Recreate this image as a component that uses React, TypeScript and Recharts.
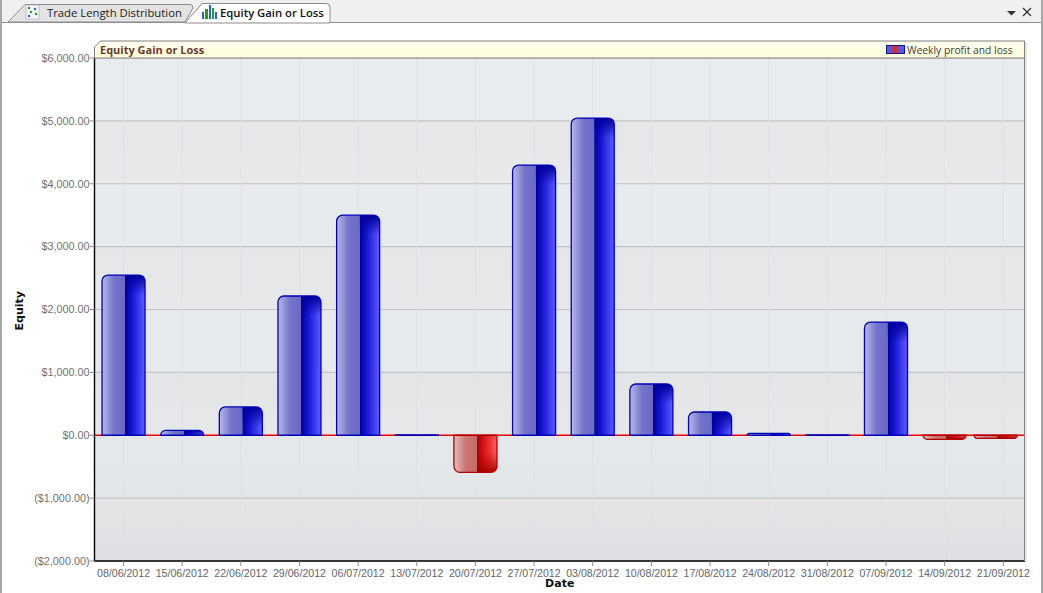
import { BarChart, Bar, XAxis, YAxis, CartesianGrid, ReferenceLine } from 'recharts';

const dates = [
  '08/06/2012', '15/06/2012', '22/06/2012', '29/06/2012', '06/07/2012', '13/07/2012', '20/07/2012', '27/07/2012',
  '03/08/2012', '10/08/2012', '17/08/2012', '24/08/2012', '31/08/2012', '07/09/2012', '14/09/2012', '21/09/2012',
];
const profit = [2548, 76, 450, 2215, 3500, 5, -590, 4297, 5045, 815, 370, 30, 5, 1800, -65, -50];
const equityTicks = [6000, 5000, 4000, 3000, 2000, 1000, 0, -1000, -2000];
const dateTicks = dates.map((_, i) => i);
// the last bar sits left of its tick in the original, it gets pushed back inside the plot
const barSlots = [0, 1, 2, 3, 4, 5, 6, 7, 8, 9, 10, 11, 12, 13, 14, 14.87];

// top -> bottom colours of every band between two gridlines
const bandTop = ['#e9ecef', '#e5e6e8', '#e8ebee', '#e5e6e8', '#e7eaed', '#e4e5e7', '#e5e8eb', '#e5e5e6'];
const bandBottom = ['#e9ecef', '#e7e9eb', '#e8ebee', '#e6e8ea', '#e7eaed', '#e5e7e9', '#e3e6e9', '#dddfe2'];

const chartData = dates.map((date, i) => ({ idx: barSlots[i], date, value: profit[i] }));

const LABEL_FONT = '"Liberation Sans", Arial, sans-serif';
const UI_FONT = '"Open Sans", "Noto Sans", sans-serif';

function formatMoney(v: number) {
  const s = '$' + Math.abs(v).toLocaleString('en-US', { minimumFractionDigits: 2 });
  return v < 0 ? `(${s})` : s;
}

function GlossyBar(props: any) {
  const { x, y, width, height, value } = props;
  const raw = Array.isArray(value) ? value[1] : value;
  const neg = raw < 0;
  const top = Math.min(y, y + height);
  const h = Math.abs(height);
  const r = Math.min(6, h);
  const right = x + width;
  const mid = x + width * 0.54;
  const bottom = top + h;
  const path = neg
    ? `M${x},${top} H${right} V${bottom - r} A${r},${r} 0 0 1 ${right - r},${bottom} H${x + r} A${r},${r} 0 0 1 ${x},${bottom - r} Z`
    : `M${x},${bottom} V${top + r} A${r},${r} 0 0 1 ${x + r},${top} H${right - r} A${r},${r} 0 0 1 ${right},${top + r} V${bottom} Z`;
  const shadeH = Math.min(20, h);
  const shade = neg
    ? `M${mid},${bottom - shadeH} H${right} V${bottom - r} A${r},${r} 0 0 1 ${right - r},${bottom} H${mid} Z`
    : `M${mid},${top + shadeH} V${top} H${right - r} A${r},${r} 0 0 1 ${right},${top + r} V${top + shadeH} Z`;
  return (
    <g>
      <path d={path} fill={neg ? 'url(#redBar)' : 'url(#blueBar)'} />
      {h > 3 && <path d={shade} fill={neg ? 'url(#redShade)' : 'url(#blueShade)'} />}
      <path d={path} fill="none" stroke={neg ? '#b00000' : '#0000b4'} strokeWidth={1.3} />
    </g>
  );
}

function TabStrip() {
  return (
    <svg width={1043} height={24} style={{ position: 'absolute', left: 0, top: 0 }}>
      <rect x={0} y={0} width={1043} height={22} fill="#f0f0f0" />
      <line x1={0} x2={1043} y1={22.5} y2={22.5} stroke="#8c8c8c" />
      <path d="M8,22 L25,4.5 H190 Q193,4.5 193,8 L185,22 Z" fill="#e3e3e3" stroke="#8c8c8c" />
      <path d="M185,23 L202,3.5 H326 Q330,3.5 330,7 V23 Z" fill="#fff" stroke="#8c8c8c" />
      <rect x={26} y={5} width={13} height={14} fill="#f4f6fb" stroke="#9aa6c0" strokeWidth={0.6} />
      <circle cx={29} cy={8} r={1.2} fill="#1aa51a" />
      <circle cx={35} cy={9} r={1.2} fill="#2a62c8" />
      <circle cx={31} cy={12} r={1.2} fill="#1aa51a" />
      <circle cx={36} cy={14} r={1.2} fill="#1aa51a" />
      <circle cx={29} cy={16} r={1.2} fill="#2a62c8" />
      <rect x={202} y={12} width={2} height={7} fill="#2a62c8" />
      <rect x={205} y={9} width={3} height={10} fill="#1aa51a" />
      <rect x={209} y={5} width={2} height={14} fill="#2a62c8" />
      <rect x={212} y={8} width={2} height={11} fill="#1aa51a" />
      <rect x={215} y={12} width={2} height={7} fill="#2a62c8" />
      <text x={47} y={17} fontFamily={UI_FONT} fontSize={11.3} fill="#222">
        Trade Length Distribution
      </text>
      <text x={220} y={17} fontFamily={UI_FONT} fontSize={11.3} fontWeight={600} fill="#111">
        Equity Gain or Loss
      </text>
      <path d="M1007,11 H1016 L1011.5,15.5 Z" fill="#333" />
      <path d="M1023,8 L1031,16 M1031,8 L1023,16" stroke="#333" strokeWidth={1.3} />
    </svg>
  );
}

export default function App() {
  return (
    <div style={{ position: 'absolute', left: 0, top: 0, width: 1043, height: 593, background: '#fff', overflow: 'hidden' }}>
      <BarChart
        width={1043}
        height={593}
        data={chartData}
        margin={{ top: 58, right: 18, bottom: 0, left: 0 }}
        barSize={43}
      >
        <defs>
          {bandTop.map((c, i) => (
            <linearGradient key={i} id={`band${i}`} x1="0" y1="0" x2="0" y2="1">
              <stop offset="0" stopColor={c} />
              <stop offset="1" stopColor={bandBottom[i]} />
            </linearGradient>
          ))}
          <linearGradient id="blueBar" x1="0" y1="0" x2="1" y2="0">
            <stop offset="0" stopColor="#b8b8e6" />
            <stop offset="0.28" stopColor="#7474cc" />
            <stop offset="0.535" stopColor="#6a6ac6" />
            <stop offset="0.545" stopColor="#0000a8" />
            <stop offset="0.7" stopColor="#1616d0" />
            <stop offset="0.85" stopColor="#3838ec" />
            <stop offset="1" stopColor="#5e5eff" />
          </linearGradient>
          <linearGradient id="redBar" x1="0" y1="0" x2="1" y2="0">
            <stop offset="0" stopColor="#e6bcbc" />
            <stop offset="0.28" stopColor="#cc7474" />
            <stop offset="0.535" stopColor="#c66a6a" />
            <stop offset="0.545" stopColor="#b40000" />
            <stop offset="0.7" stopColor="#d41616" />
            <stop offset="0.85" stopColor="#ec3838" />
            <stop offset="1" stopColor="#ff5e5e" />
          </linearGradient>
          <linearGradient id="blueShade" x1="0" y1="0" x2="0" y2="1">
            <stop offset="0" stopColor="#00009c" stopOpacity={1} />
            <stop offset="1" stopColor="#00009c" stopOpacity={0} />
          </linearGradient>
          <linearGradient id="redShade" x1="0" y1="0" x2="0" y2="1">
            <stop offset="0" stopColor="#a80000" stopOpacity={0} />
            <stop offset="1" stopColor="#a80000" stopOpacity={0.9} />
          </linearGradient>
        </defs>
        <CartesianGrid
          vertical={false}
          stroke="#c2c2c2"
          strokeWidth={1.2}
          horizontalFill={bandTop.map((_, i) => `url(#band${i})`)}
        />
        <CartesianGrid horizontal={false} stroke="#e0e2e5" />
        <XAxis
          dataKey="idx"
          type="number"
          domain={[-0.495, 15.37]}
          ticks={dateTicks}
          interval={0}
          tickFormatter={(i: number) => dates[i]}
          height={32}
          tickSize={5}
          tickMargin={3}
          axisLine={{ stroke: '#000', strokeWidth: 1.4 }}
          tickLine={{ stroke: '#888' }}
          tick={{ fill: '#666', fontSize: 10.6, fontFamily: LABEL_FONT }}
          label={{
            value: 'Date',
            position: 'insideBottom',
            offset: 6,
            fill: '#111',
            fontSize: 11,
            fontWeight: 700,
            fontFamily: '"DejaVu Sans", sans-serif',
          }}
        />
        <YAxis
          type="number"
          domain={[-2000, 6000]}
          ticks={equityTicks}
          interval={0}
          width={94.5}
          tickSize={5}
          tickMargin={0}
          tickFormatter={formatMoney}
          axisLine={{ stroke: '#000', strokeWidth: 1.4 }}
          tickLine={{ stroke: '#888' }}
          tick={{ fill: '#707070', fontSize: 10.8, fontFamily: LABEL_FONT }}
          label={{
            value: 'Equity',
            angle: -90,
            position: 'insideLeft',
            offset: 19,
            dy: 21,
            fill: '#111',
            fontSize: 11,
            fontWeight: 700,
            fontFamily: '"DejaVu Sans", sans-serif',
          }}
        />
        <ReferenceLine y={0} stroke="#ff0000" strokeWidth={1.6} zIndex={100} />
        <Bar dataKey="value" shape={GlossyBar} isAnimationActive={false} />
      </BarChart>

      <TabStrip />
      <div style={{ position: 'absolute', left: 0, top: 0, width: 2, height: 593, background: '#a6a6a6' }} />
      <div style={{ position: 'absolute', left: 1041, top: 0, width: 2, height: 593, background: '#a6a6a6' }} />
      <div style={{ position: 'absolute', left: 1024, top: 58, width: 1, height: 503, background: '#808080' }} />
      <div style={{ position: 'absolute', left: 1025, top: 42, width: 2, height: 520, background: '#e8e8e8' }} />

      <svg width={1043} height={60} style={{ position: 'absolute', left: 0, top: 0, pointerEvents: 'none' }}>
        <defs>
          <linearGradient id="titleBar" x1="0" y1="0" x2="0" y2="1">
            <stop offset="0" stopColor="#fffff2" />
            <stop offset="1" stopColor="#fdfdd6" />
          </linearGradient>
        </defs>
        <path d="M94.5,58 V47 L100.5,41 H1024.5 V58 Z" fill="url(#titleBar)" stroke="#7f7f7f" />
        <text x={100} y={54} fontFamily={UI_FONT} fontSize={11} fontWeight={700} fill="#6b3a2e">
          Equity Gain or Loss
        </text>
        <rect x={886.5} y={45.5} width={18} height={8} fill="#5a5ae0" stroke="#10108a" />
        <rect x={892} y={46} width={6} height={7} fill="#d23030" />
        <text x={907} y={53.5} fontFamily={UI_FONT} fontSize={10.3} fill="#3c3c3c">
          Weekly profit and loss
        </text>
      </svg>
    </div>
  );
}
